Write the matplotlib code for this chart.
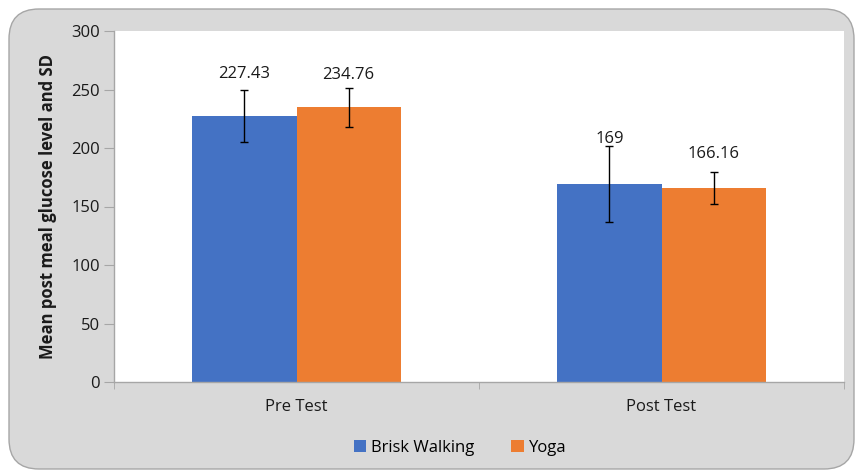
import matplotlib.pyplot as plt
from matplotlib.patches import FancyBboxPatch
import numpy as np

# data
groups = ["Pre Test", "Post Test"]
brisk_mean = [227.43, 169]
brisk_sd = [22.0, 32.5]
yoga_mean = [234.76, 166.16]
yoga_sd = [16.5, 13.7]
brisk_labels = ["227.43", "169"]
yoga_labels = ["234.76", "166.16"]

plt.rcParams['font.family'] = ['Open Sans', 'DejaVu Sans']
FS = 12

fig = plt.figure(figsize=(8.56, 4.74), dpi=100)
fig.patch.set_facecolor("white")

# rounded chart background
bg = FancyBboxPatch((9/856, 5/474), 845/856, 460/474,
                    boxstyle="round,pad=0,rounding_size=0.035",
                    transform=fig.transFigure, facecolor="#d9d9d9",
                    edgecolor="#a6a6a6", linewidth=1.0, zorder=-1,
                    mutation_aspect=856/474)
fig.patches.append(bg)

ax = fig.add_axes([114/856, 92/474, 730/856, 351/474])
ax.set_zorder(1)
ax.set_facecolor("white")

x = np.arange(len(groups))
w = 0.285
err_kw = dict(ecolor="black", elinewidth=1.0, capsize=3, capthick=1.0)
b1 = ax.bar(x - w/2, brisk_mean, w, yerr=brisk_sd, color="#4472c4",
            label="Brisk Walking", error_kw=err_kw, zorder=2)
b2 = ax.bar(x + w/2, yoga_mean, w, yerr=yoga_sd, color="#ed7d31",
            label="Yoga", error_kw=err_kw, zorder=2)

# value labels (hand placed in the original chart)
brisk_off = [35.5, 39]
yoga_off = [27.5, 28.5]
for i in range(len(groups)):
    ax.text(x[i] - w/2, brisk_mean[i] + brisk_off[i], brisk_labels[i],
            ha="center", va="center", fontsize=FS, color="#1a1a1a", zorder=3)
    ax.text(x[i] + w/2, yoga_mean[i] + yoga_off[i], yoga_labels[i],
            ha="center", va="center", fontsize=FS, color="#1a1a1a", zorder=3)

ax.set_xlim(-0.5, 1.5)
ax.set_ylim(0, 300)
ax.set_yticks(range(0, 301, 50))
ax.set_xticks(x)
ax.set_xticklabels(groups)
ax.set_xticks([-0.5, 0.5, 1.5], minor=True)
ax.tick_params(axis="x", which="major", length=0, pad=12, labelsize=FS, labelcolor="#1a1a1a")
ax.tick_params(axis="x", which="minor", length=5, color="#a6a6a6", direction="out")
ax.tick_params(axis="y", length=7, color="#a6a6a6", labelsize=FS, labelcolor="#1a1a1a", pad=3)

for s in ["top", "right"]:
    ax.spines[s].set_visible(False)
for s in ["left", "bottom"]:
    ax.spines[s].set_color("#a6a6a6")
    ax.spines[s].set_linewidth(1.0)

ax.set_ylabel("Mean post meal glucose level and SD", fontsize=FS,
              fontweight="bold", color="#1a1a1a", labelpad=10)

fig.legend(handles=[b1, b2], labels=["Brisk Walking", "Yoga"], loc="center",
           bbox_to_anchor=(460/856, 26/474), ncol=2, frameon=False,
           fontsize=FS, handlelength=0.75, handleheight=0.75,
           columnspacing=2.2, handletextpad=0.3)

fig.savefig("out.png", dpi=100, facecolor=fig.get_facecolor())
